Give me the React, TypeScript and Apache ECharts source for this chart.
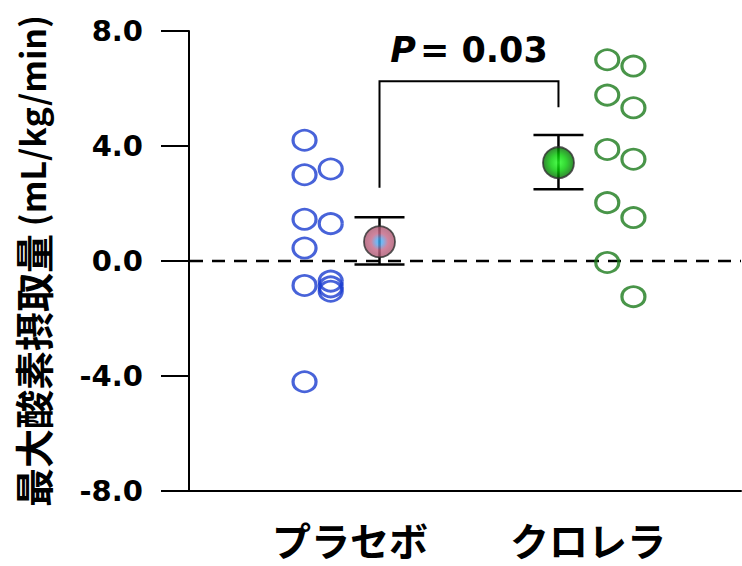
import React, { useEffect, useRef } from "react";
import * as echarts from "echarts";

// ---- data ----
const categories = ["プラセボ", "クロレラ"];
const yAxisTitle = "最大酸素摂取量";
const yAxisUnit = "(mL/kg/min)";
const yMin = -8;
const yMax = 8;
const yInterval = 4;
const referenceLevel = 0;

// individual changes, placebo (two jitter columns)
const placeboOuterColumn = [4.2, 3.0, 1.45, 0.45, -0.85, -4.2];
const placeboInnerColumn = [3.2, 1.3, -0.7, -0.9, -1.05];
// individual changes, chlorella (two jitter columns)
const chlorellaInnerColumn = [7.0, 5.77, 3.88, 2.03, -0.05];
const chlorellaOuterColumn = [6.78, 5.33, 3.54, 1.51, -1.24];

// group mean and error limits
const groupMeans = [0.67, 3.42];
const groupUpper = [1.52, 4.38];
const groupLower = [-0.12, 2.5];

// significance bracket
const pValue = "0.03";
const bracketTop = 6.25;
const bracketLeftEnd = 2.55;
const bracketRightEnd = 5.35;
const pLabelLevel = 7.35;

// ---- layout (positions on the x value axis) ----
const X_MIN = 0.3235;
const X_MAX = 2.643;
const MEAN_OFFSET = 0.124;
const INNER_OFFSET = 0.081;
const OUTER_OFFSET = 0.191;

const BLUE = "#1a3ccf";
const GREEN = "#1c7a1c";

export default function App() {
  const ref = useRef<HTMLDivElement>(null);

  useEffect(() => {
    if (!ref.current) return;
    const chart = echarts.init(ref.current, null, { renderer: "svg" });

    const gx = [1, 2];
    const meanX = [gx[0] + MEAN_OFFSET, gx[1] - MEAN_OFFSET];

    const placeboPts = [
      ...placeboOuterColumn.map((v) => [gx[0] - OUTER_OFFSET, v]),
      ...placeboInnerColumn.map((v) => [gx[0] - INNER_OFFSET, v]),
    ];
    const chlorellaPts = [
      ...chlorellaInnerColumn.map((v) => [gx[1] + INNER_OFFSET, v]),
      ...chlorellaOuterColumn.map((v) => [gx[1] + OUTER_OFFSET, v]),
    ];

    const placeboFill = new echarts.graphic.RadialGradient(0.5, 0.5, 0.5, [
      { offset: 0, color: "#35aef5" },
      { offset: 0.22, color: "#5aa2ea" },
      { offset: 0.55, color: "#c46686" },
      { offset: 1, color: "#a9566f" },
    ]);
    const chlorellaFill = new echarts.graphic.RadialGradient(0.5, 0.5, 0.5, [
      { offset: 0, color: "#22ff22" },
      { offset: 0.5, color: "#00cc00" },
      { offset: 1, color: "#006a00" },
    ]);

    const option: any = {
      animation: false,
      backgroundColor: "#ffffff",
      grid: {
        left: 189,
        right: 1,
        top: 31,
        bottom: 75,
        containLabel: false,
        outerBoundsMode: "none",
      },
      xAxis: {
        type: "value",
        min: X_MIN,
        max: X_MAX,
        axisLine: { show: true, onZero: false, lineStyle: { color: "#000", width: 2 } },
        axisTick: { show: false },
        splitLine: { show: false },
        axisLabel: {
          customValues: gx,
          formatter: (v: number) => categories[Math.round(v) - 1] ?? "",
          color: "#000",
          fontSize: 39,
          fontWeight: "bold",
          fontFamily: "Noto Sans CJK JP",
          margin: 28,
        },
      },
      yAxis: {
        type: "value",
        min: yMin,
        max: yMax,
        interval: yInterval,
        axisLine: { show: true, onZero: false, lineStyle: { color: "#000", width: 2 } },
        axisTick: {
          show: true,
          inside: false,
          length: 28,
          lineStyle: { color: "#000", width: 2 },
        },
        splitLine: { show: false },
        axisLabel: {
          formatter: (v: number) => v.toFixed(1),
          color: "#000",
          fontSize: 29,
          fontWeight: "bold",
          fontFamily: "DejaVu Sans",
          margin: 46,
        },
        name: `{c|${yAxisTitle}}{u| ${yAxisUnit}}`,
        nameLocation: "middle",
        nameRotate: 90,
        nameGap: 138,
        nameTextStyle: {
          color: "#000",
          rich: {
            c: {
              fontSize: 39,
              fontWeight: "bold",
              fontFamily: "Noto Sans CJK JP",
              color: "#000",
            },
            u: {
              fontSize: 34,
              fontWeight: "bold",
              fontFamily: "Noto Sans CJK JP",
              color: "#000",
            },
          },
        },
      },
      series: [
        {
          type: "custom",
          name: "zero",
          z: 2,
          data: [[referenceLevel]],
          encode: { y: 0 },
          renderItem: (params: any, api: any) => {
            const cs = params.coordSys;
            const p = api.coord([X_MIN, api.value(0)]);
            return {
              type: "line",
              shape: { x1: cs.x + 1, y1: p[1], x2: cs.x + cs.width, y2: p[1] },
              style: { stroke: "#000", lineWidth: 2.5, lineDash: [13, 9], lineCap: "butt" },
            };
          },
        },
        {
          type: "scatter",
          name: "placebo",
          data: placeboPts,
          symbol: "circle",
          symbolSize: [23, 20],
          itemStyle: { color: "rgba(0,0,0,0)", borderColor: BLUE, borderWidth: 3 },
          z: 4,
        },
        {
          type: "scatter",
          name: "chlorella",
          data: chlorellaPts,
          symbol: "circle",
          symbolSize: [23, 20],
          itemStyle: { color: "rgba(0,0,0,0)", borderColor: GREEN, borderWidth: 3 },
          z: 4,
        },
        {
          type: "custom",
          name: "error",
          z: 5,
          data: meanX.map((x, i) => [x, groupLower[i], groupUpper[i]]),
          encode: { x: 0, y: [1, 2] },
          renderItem: (params: any, api: any) => {
            const x = api.value(0);
            const pHi = api.coord([x, api.value(2)]);
            const pLo = api.coord([x, api.value(1)]);
            const hw = 25;
            const st = { stroke: "#000", lineWidth: 2.5 };
            return {
              type: "group",
              children: [
                { type: "line", shape: { x1: pHi[0], y1: pHi[1], x2: pLo[0], y2: pLo[1] }, style: st },
                { type: "line", shape: { x1: pHi[0] - hw, y1: pHi[1], x2: pHi[0] + hw, y2: pHi[1] }, style: st },
                { type: "line", shape: { x1: pLo[0] - hw, y1: pLo[1], x2: pLo[0] + hw, y2: pLo[1] }, style: st },
              ],
            };
          },
        },
        {
          type: "scatter",
          name: "mean",
          z: 6,
          symbol: "circle",
          symbolSize: 31,
          data: [
            { value: [meanX[0], groupMeans[0]], itemStyle: { color: placeboFill } },
            { value: [meanX[1], groupMeans[1]], itemStyle: { color: chlorellaFill } },
          ],
          itemStyle: { borderColor: "#2e2e2e", borderWidth: 1.8 },
        },
        {
          type: "custom",
          name: "bracket",
          z: 5,
          data: [[meanX[0], meanX[1], bracketTop, bracketLeftEnd, bracketRightEnd, pLabelLevel]],
          encode: { x: [0, 1], y: [2, 3, 4, 5] },
          renderItem: (params: any, api: any) => {
            const x1 = api.value(0);
            const x2 = api.value(1);
            const top = api.value(2);
            const a = api.coord([x1, api.value(3)]);
            const b = api.coord([x1, top]);
            const c = api.coord([x2, top]);
            const d = api.coord([x2, api.value(4)]);
            const t = api.coord([(x1 + x2) / 2, api.value(5)]);
            return {
              type: "group",
              children: [
                {
                  type: "polyline",
                  shape: { points: [a, b, c, d] },
                  style: { stroke: "#000", lineWidth: 2, fill: "none" },
                },
                {
                  type: "text",
                  x: t[0],
                  y: t[1],
                  style: {
                    text: `{i|P}{n|= ${pValue}}`,
                    align: "center",
                    verticalAlign: "middle",
                    rich: {
                      i: {
                        fontSize: 35,
                        fontWeight: "bold",
                        fontStyle: "italic",
                        fontFamily: "DejaVu Sans",
                        fill: "#000",
                        padding: [0, 4, 0, 0],
                      },
                      n: {
                        fontSize: 35,
                        fontWeight: "bold",
                        fontFamily: "DejaVu Sans",
                        fill: "#000",
                      },
                    },
                  },
                },
              ],
            };
          },
        },
      ],
    };

    chart.setOption(option);
    return () => chart.dispose();
  }, []);

  return (
    <div
      ref={ref}
      style={{ position: "fixed", left: 0, top: 0, width: 742, height: 566, background: "#fff" }}
    />
  );
}
